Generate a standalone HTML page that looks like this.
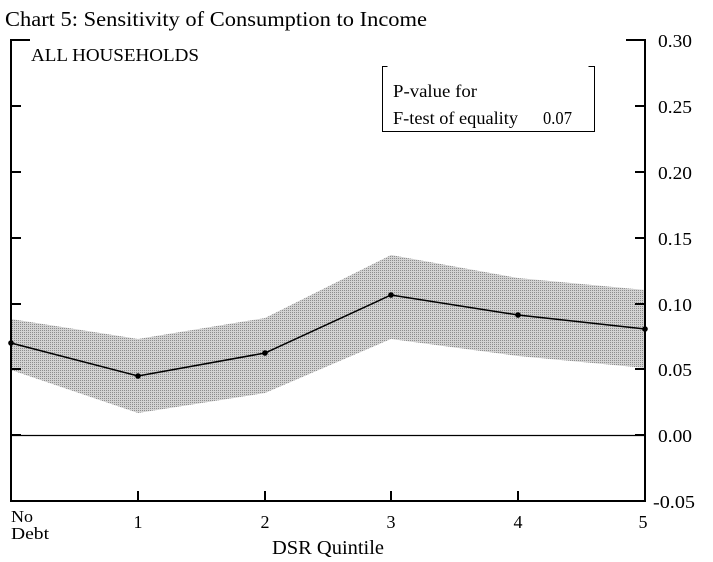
<!DOCTYPE html>
<html>
<head>
<meta charset="utf-8">
<style>
html,body{margin:0;padding:0;background:#fff;}
svg{display:block;}
text{font-family:"Liberation Serif","DejaVu Serif",serif;fill:#000;}
</style>
</head>
<body>
<svg width="713" height="562" viewBox="0 0 713 562" xmlns="http://www.w3.org/2000/svg">
<defs>
<pattern id="dots" width="2" height="2" patternUnits="userSpaceOnUse">
<rect width="2" height="2" fill="#d2d2d2"/>
<rect width="1" height="1" fill="#8c8c8c"/>
</pattern>
</defs>
<rect width="713" height="562" fill="#fff"/>
<text x="5" y="26" font-size="21" textLength="422" lengthAdjust="spacingAndGlyphs">Chart 5: Sensitivity of Consumption to Income</text>

<!-- band -->
<polygon fill="url(#dots)" points="11,319 138,339 265,318 391,255 518,278 645,290 645,368 518,356 391,339 265,393 138,413 11,370"/>

<!-- zero line -->
<line x1="11" y1="435.5" x2="645" y2="435.5" stroke="#000" stroke-width="1.2"/>

<!-- series -->
<polyline fill="none" stroke="#000" stroke-width="1.5" points="11,343 138,376 265,353 391,295 518,315 645,329"/>
<g fill="#000">
<circle cx="11" cy="343" r="2.8"/>
<circle cx="138" cy="376" r="2.8"/>
<circle cx="265" cy="353" r="2.8"/>
<circle cx="391" cy="295" r="2.8"/>
<circle cx="518" cy="315" r="2.8"/>
<circle cx="645" cy="329" r="2.8"/>
</g>

<!-- axes -->
<g stroke="#000" stroke-width="2" fill="none">
<line x1="11" y1="39" x2="11" y2="502"/>
<line x1="645" y1="39" x2="645" y2="502"/>
<line x1="10" y1="501" x2="646" y2="501"/>
<line x1="10" y1="40" x2="30" y2="40"/>
<line x1="626" y1="40" x2="646" y2="40"/>
<line x1="11" y1="106" x2="21" y2="106"/>
<line x1="11" y1="172" x2="21" y2="172"/>
<line x1="11" y1="238" x2="21" y2="238"/>
<line x1="11" y1="304" x2="21" y2="304"/>
<line x1="11" y1="369" x2="21" y2="369"/>
<line x1="11" y1="435" x2="21" y2="435"/>
<line x1="635" y1="106" x2="645" y2="106"/>
<line x1="635" y1="172" x2="645" y2="172"/>
<line x1="635" y1="238" x2="645" y2="238"/>
<line x1="635" y1="304" x2="645" y2="304"/>
<line x1="635" y1="369" x2="645" y2="369"/>
<line x1="635" y1="435" x2="645" y2="435"/>
<line x1="138" y1="491" x2="138" y2="501"/>
<line x1="265" y1="491" x2="265" y2="501"/>
<line x1="391" y1="491" x2="391" y2="501"/>
<line x1="518" y1="491" x2="518" y2="501"/>
</g>

<!-- y labels -->
<g font-size="18">
<text x="658" y="47" textLength="34" lengthAdjust="spacingAndGlyphs">0.30</text>
<text x="658" y="113" textLength="34" lengthAdjust="spacingAndGlyphs">0.25</text>
<text x="658" y="179" textLength="34" lengthAdjust="spacingAndGlyphs">0.20</text>
<text x="658" y="245" textLength="34" lengthAdjust="spacingAndGlyphs">0.15</text>
<text x="658" y="311" textLength="34" lengthAdjust="spacingAndGlyphs">0.10</text>
<text x="658" y="376" textLength="34" lengthAdjust="spacingAndGlyphs">0.05</text>
<text x="658" y="442" textLength="34" lengthAdjust="spacingAndGlyphs">0.00</text>
<text x="653" y="508" textLength="42" lengthAdjust="spacingAndGlyphs">-0.05</text>
</g>

<!-- x labels -->
<g font-size="17">
<text x="11" y="522" textLength="22" lengthAdjust="spacingAndGlyphs">No</text>
<text x="11" y="539" textLength="38" lengthAdjust="spacingAndGlyphs">Debt</text>
</g>
<g font-size="18" text-anchor="middle">
<text x="138" y="528">1</text>
<text x="265" y="528">2</text>
<text x="391" y="528">3</text>
<text x="518" y="528">4</text>
<text x="643" y="528">5</text>
</g>
<text x="328" y="554" font-size="20" text-anchor="middle" textLength="112" lengthAdjust="spacingAndGlyphs">DSR Quintile</text>

<text x="31" y="61" font-size="18" textLength="168" lengthAdjust="spacingAndGlyphs">ALL HOUSEHOLDS</text>

<!-- p-value box -->
<g stroke="#000" stroke-width="1" fill="none">
<polyline points="387.5,66.5 382.5,66.5 382.5,131.5 594.5,131.5 594.5,66.5 588.5,66.5"/>
</g>
<g font-size="18">
<text x="393" y="97" textLength="84" lengthAdjust="spacingAndGlyphs">P-value for</text>
<text x="393" y="124" textLength="125" lengthAdjust="spacingAndGlyphs">F-test of equality</text>
<text x="543" y="124" textLength="29" lengthAdjust="spacingAndGlyphs">0.07</text>
</g>
</svg>
</body>
</html>
